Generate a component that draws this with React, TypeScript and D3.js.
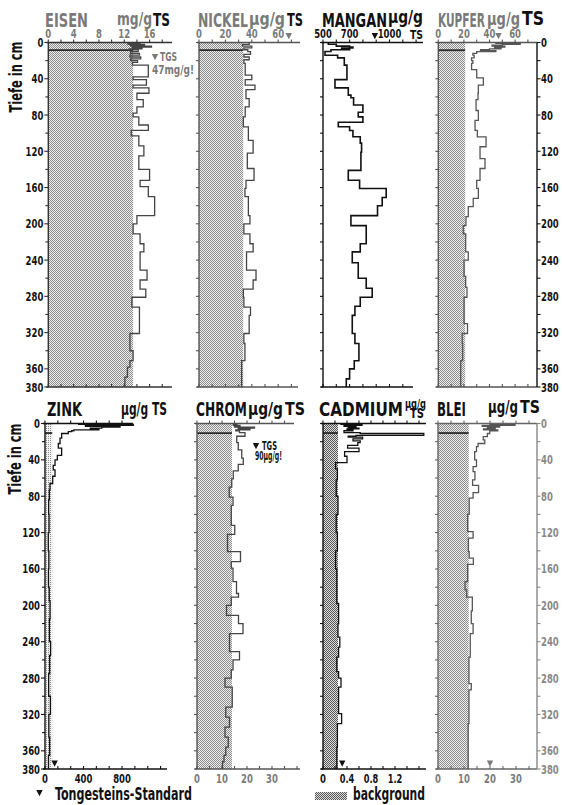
import React from "react";
import * as d3 from "d3";

type Seg = [number, number, number]; // [depth top cm, depth bottom cm, value]

// ---------------- DATA ----------------
const depthLabels = [0, 40, 80, 120, 160, 200, 240, 280, 320, 360, 380];
const depthTicks = d3.range(0, 381, 20);

const eisen: Seg[] = [
  [0, 1, 14.5], [1, 2, 12.6], [2, 3, 15.2], [3, 4, 13], [4, 5, 16.3], [5, 6, 13.3], [6, 7, 14.8], [7, 8, 12.8],
  [8, 10, 14.2], [10, 12, 13], [12, 14, 14.4], [14, 16, 12.9], [16, 18, 14.6], [18, 20, 13], [20, 22, 14.1],
  [22, 25, 13.3], [25, 38, 15.8], [38, 41, 13.4], [41, 47, 15.5], [47, 50, 13.4], [50, 56, 15.9], [56, 63, 14],
  [63, 71, 15], [71, 78, 14], [78, 82, 13.4], [82, 91, 14.3], [91, 97, 15.8], [97, 103, 13.1], [103, 114, 14.3],
  [114, 125, 15.1], [125, 140, 14.3], [140, 152, 16.0], [152, 159, 14.5], [159, 170, 15.8], [170, 191, 16.8],
  [191, 200, 14], [200, 211, 13.4], [211, 222, 14.5], [222, 231, 15.1], [231, 251, 14.5], [251, 262, 15.6],
  [262, 272, 14.5], [272, 281, 15.4], [281, 292, 13.2], [292, 321, 14.4], [321, 340, 12.9], [340, 351, 13.4],
  [351, 358, 12.9], [358, 369, 12.5], [369, 380, 12.1],
];

const nickel: Seg[] = [
  [0, 2, 38], [2, 4, 33], [4, 6, 40], [6, 8, 34], [8, 10, 37], [10, 13, 39], [13, 16, 34], [16, 19, 38],
  [19, 23, 34], [23, 36, 35], [36, 41, 40], [41, 47, 35], [47, 52, 42.4], [52, 62, 35.6], [62, 71, 38],
  [71, 82, 35], [82, 93, 33.6], [93, 108, 37.4], [108, 122, 41], [122, 139, 36.6], [139, 152, 41.7],
  [152, 161, 35.6], [161, 170, 34.8], [170, 191, 37.4], [191, 200, 38.6], [200, 211, 34], [211, 222, 38.6],
  [222, 231, 41], [231, 251, 36], [251, 262, 43.2], [262, 272, 41], [272, 281, 33.6], [281, 292, 34],
  [292, 301, 39], [301, 321, 38], [321, 332, 34], [332, 351, 34.8], [351, 380, 32.3],
];

const mangan: Seg[] = [
  [0, 2, 540], [2, 4, 600], [4, 5, 700], [5, 6, 725], [6, 7, 640], [7, 8, 700], [8, 10, 560], [10, 14, 515],
  [14, 17, 610], [17, 25, 660], [25, 41, 680], [41, 50, 590], [50, 58, 690], [58, 61, 710], [61, 69, 730],
  [69, 77, 800], [77, 82, 765], [82, 88, 800], [88, 93, 615], [93, 97, 700], [97, 104, 725], [104, 111, 780],
  [111, 121, 790], [121, 141, 785], [141, 152, 690], [152, 161, 775], [161, 171, 975], [171, 180, 945],
  [180, 191, 910], [191, 202, 710], [202, 222, 825], [222, 231, 780], [231, 243, 720], [243, 260, 765],
  [260, 271, 825], [271, 281, 870], [281, 291, 780], [291, 301, 740], [301, 321, 720], [321, 332, 740],
  [332, 351, 770], [351, 360, 735], [360, 371, 700], [371, 380, 675],
];

const kupfer: Seg[] = [
  [0, 1, 45], [1, 2, 64], [2, 3, 50], [3, 4, 42], [4, 5, 52], [5, 6, 44], [6, 7, 49], [7, 8, 40], [8, 9, 33],
  [9, 10, 45], [10, 12, 30], [12, 14, 27], [14, 17, 28], [17, 20, 26], [20, 23, 27], [23, 30, 26], [30, 39, 30],
  [39, 47, 35.2], [47, 56, 31.3], [56, 63, 31], [63, 75, 29.5], [75, 86, 31.3], [86, 97, 28.7], [97, 104, 30.5],
  [104, 115, 37.3], [115, 128, 32.6], [128, 139, 36.5], [139, 152, 32.6], [152, 161, 30], [161, 172, 31.3],
  [172, 181, 27.3], [181, 192, 23.4], [192, 202, 21.6], [202, 211, 19.5], [211, 231, 21.4], [231, 240, 23.4],
  [240, 258, 20.1], [258, 270, 21.4], [270, 281, 22.4], [281, 310, 20.1], [310, 321, 22.8], [321, 332, 18.7],
  [332, 351, 19], [351, 380, 17.5],
];

const zink: Seg[] = [
  [0, 1, 350], [1, 2, 917], [2, 3, 420], [3, 4, 779], [4, 5, 590], [5, 6, 470], [6, 7, 560], [7, 8, 300],
  [8, 9, 277], [9, 11, 242], [11, 16, 173], [16, 22, 156], [22, 27, 138], [27, 35, 173], [35, 40, 128],
  [40, 46, 104], [46, 51, 86], [51, 58, 104], [58, 66, 80], [66, 73, 52], [73, 84, 45], [84, 100, 38],
  [100, 120, 42], [120, 140, 34], [140, 160, 40], [160, 180, 36], [180, 195, 44], [195, 215, 52], [215, 240, 46],
  [240, 255, 58], [255, 275, 48], [275, 300, 38], [300, 320, 56], [320, 345, 40], [345, 365, 48], [365, 380, 36],
];

const chrom: Seg[] = [
  [0, 1, 16], [1, 2, 14.5], [2, 3, 17.2], [3, 4, 15], [4, 5, 23], [5, 6, 16.5], [6, 7, 21.2], [7, 8, 15.5],
  [8, 10, 17], [10, 14, 19.2], [14, 21, 15.9], [21, 29, 16.5], [29, 38, 17.9], [38, 45, 18.5], [45, 52, 16.5],
  [52, 61, 14.5], [61, 70, 13.9], [70, 81, 12.9], [81, 90, 14.4], [90, 112, 13.7], [112, 122, 15.1],
  [122, 141, 12.2], [141, 152, 17.4], [152, 159, 13.7], [159, 174, 14.4], [174, 187, 15.8], [187, 191, 16.6],
  [191, 200, 13.7], [200, 211, 11.8], [211, 220, 16.6], [220, 231, 18.4], [231, 251, 13], [251, 260, 17],
  [260, 271, 14.4], [271, 280, 13.7], [280, 290, 11.2], [290, 312, 14.1], [312, 323, 11.5], [323, 334, 13],
  [334, 345, 11.2], [345, 356, 12.5], [356, 365, 11.5], [365, 372, 10.8], [372, 380, 10.2],
];

const cadmium: Seg[] = [
  [0, 1, 0.3], [1, 2, 0.65], [2, 3, 0.35], [3, 4, 0.55], [4, 5, 0.42], [5, 6, 0.6], [6, 7, 0.4], [7, 8, 0.5],
  [8, 10, 0.35], [10, 11, 0.62], [11, 13, 1.68], [13, 14, 0.55], [14, 15, 0.42], [15, 17, 0.66], [17, 19, 0.5],
  [19, 21, 0.62], [21, 24, 0.58], [24, 27, 0.41], [27, 31, 0.6], [31, 36, 0.36], [36, 43, 0.4], [43, 50, 0.21],
  [50, 62, 0.24], [62, 80, 0.22], [80, 100, 0.25], [100, 120, 0.22], [120, 140, 0.24], [140, 160, 0.21],
  [160, 183, 0.23], [183, 198, 0.23], [198, 220, 0.26], [220, 235, 0.25], [235, 246, 0.28], [246, 257, 0.26],
  [257, 273, 0.23], [273, 280, 0.26], [280, 290, 0.3], [290, 319, 0.26], [319, 330, 0.31], [330, 356, 0.24],
  [356, 380, 0.23],
];

const blei: Seg[] = [
  [0, 1, 20], [1, 2, 29.6], [2, 3, 17], [3, 4, 23.7], [4, 5, 19], [5, 6, 22], [6, 7, 17.5], [7, 8, 23],
  [8, 11, 19.9], [11, 14.5, 19], [14.5, 18, 17.4], [18, 22, 18], [22, 25.5, 15.4], [25.5, 31, 14.8],
  [31, 40, 14.1], [40, 47.5, 14.8], [47.5, 53, 13.5], [53, 62, 14.2], [62, 68, 13.3], [68, 76, 15.6],
  [76, 82, 13.5], [82, 100, 12], [100, 119, 11.4], [119, 126, 13.5], [126, 141, 11.7], [141, 148, 12],
  [148, 155, 13.6], [155, 174, 11.4], [174, 183, 10.4], [183, 191, 11], [191, 206, 13.2], [206, 220, 12.8],
  [220, 231, 13.5], [231, 257, 12.4], [257, 286, 11.9], [286, 293, 12.8], [293, 330, 11.9], [330, 380, 11.6],
];

// background levels
const bgEisen = 13.4, bgNickel = 33.5, bgKupfer = 21, bgZink = 75, bgChrom = 14, bgCadmium = 0.25, bgBlei = 11.8;
// Tongesteins-Standard markers
const tgsNickel = 68, tgsMangan = 890, tgsKupfer = 47, tgsZink = 100, tgsCadmium = 0.32, tgsBlei = 20;
// tick labels
const eisenLabels = [0, 4, 8, 12, 16];
const nickelLabels = [0, 20, 40, 60];
const manganLabels = [500, 700, 1000];
const kupferLabels = [0, 20, 40, 60];
const zinkLabels = [0, 400, 800];
const chromLabels = [0, 10, 20, 30];
const cadmiumLabels = [0, 0.4, 0.8, 1.2];
const bleiLabels = [0, 10, 20, 30];

// ---------------- LAYOUT ----------------
const FONT = "'Liberation Sans Narrow','Arial Narrow','DejaVu Sans Condensed','Liberation Sans',sans-serif";
const GRAY = "#7a7a7a";
const BLACK = "#111";

const yTop = d3.scaleLinear().domain([0, 380]).range([42.5, 387]);
const yBot = d3.scaleLinear().domain([0, 380]).range([423.5, 769]);

// estimated width of a numeric label in the condensed face
const numW = (s: string) => s.split("").reduce((a, ch) => a + (ch === "." ? 2.8 : 5.9), 0);

interface PanelDef {
  data: Seg[]; row: 0 | 1; v0: number; px0: number; ppu: number; axisEnd: number; topEnd: number;
  step: number; labels: number[]; labelColor: string; lineColor: string; axisColor: string;
  bg?: number; tgs?: number; tgsColor?: string; pattern?: string; fmt?: (v: number) => string;
  leftLabels?: boolean; rightAxis?: boolean; rightColor?: string; lineW?: number;
}

const panels: PanelDef[] = [
  { data: eisen, row: 0, v0: 0, px0: 48.3, ppu: 6.33, axisEnd: 172, topEnd: 172, step: 2, labels: eisenLabels,
    labelColor: GRAY, lineColor: "#444", axisColor: "#333", bg: bgEisen, pattern: "stipG", leftLabels: true },
  { data: nickel, row: 0, v0: 0, px0: 199, ppu: 1.32, axisEnd: 298, topEnd: 300, step: 10, labels: nickelLabels,
    labelColor: GRAY, lineColor: "#444", axisColor: "#555", bg: bgNickel, tgs: tgsNickel, tgsColor: GRAY, pattern: "stipG" },
  { data: mangan, row: 0, v0: 500, px0: 323, ppu: 0.133, axisEnd: 413, topEnd: 423, step: 100, labels: manganLabels,
    labelColor: BLACK, lineColor: BLACK, axisColor: BLACK, tgs: tgsMangan, tgsColor: BLACK, lineW: 1.6 },
  { data: kupfer, row: 0, v0: 0, px0: 438.3, ppu: 1.28, axisEnd: 537, topEnd: 537, step: 10, labels: kupferLabels,
    labelColor: GRAY, lineColor: "#555", axisColor: "#555", bg: bgKupfer, tgs: tgsKupfer, tgsColor: GRAY, pattern: "stipG",
    rightAxis: true, rightColor: BLACK },
  { data: zink, row: 1, v0: 0, px0: 45, ppu: 0.0963, axisEnd: 167, topEnd: 133, step: 400 / 3, labels: zinkLabels,
    labelColor: BLACK, lineColor: BLACK, axisColor: BLACK, bg: bgZink, tgs: tgsZink, tgsColor: BLACK, pattern: "stipL", leftLabels: true },
  { data: chrom, row: 1, v0: 0, px0: 197, ppu: 2.5, axisEnd: 300, topEnd: 294, step: 5, labels: chromLabels,
    labelColor: GRAY, lineColor: "#444", axisColor: "#555", bg: bgChrom, pattern: "stipG" },
  { data: cadmium, row: 1, v0: 0, px0: 323, ppu: 60, axisEnd: 426, topEnd: 426, step: 0.2, labels: cadmiumLabels,
    labelColor: BLACK, lineColor: BLACK, axisColor: BLACK, bg: bgCadmium, tgs: tgsCadmium, tgsColor: BLACK, pattern: "stipD",
    fmt: (v) => (v === 0 ? "0" : String(v)) },
  { data: blei, row: 1, v0: 0, px0: 438, ppu: 2.6, axisEnd: 537, topEnd: 537, step: 5, labels: bleiLabels,
    labelColor: GRAY, lineColor: "#555", axisColor: "#666", bg: bgBlei, tgs: tgsBlei, tgsColor: GRAY, pattern: "stipG",
    rightAxis: true, rightColor: "#888" },
];

const tri = "M-3.2,-3 L3.2,-3 L0,3.2 Z";

function N(props: { x: number; y: number; anchor: string; c: string; s: string; fs?: number }) {
  const { x, y, anchor, c, s, fs = 13 } = props;
  return (
    <text x={x} y={y} textAnchor={anchor} fontSize={fs} fontWeight="bold" fontFamily={FONT} fill={c}
      textLength={numW(s)} lengthAdjust="spacingAndGlyphs">{s}</text>
  );
}

function Panel({ p }: { p: PanelDef }) {
  const y = p.row === 0 ? yTop : yBot;
  const [yA, yB] = y.range();
  const x = d3.scaleLinear().domain([p.v0, p.v0 + 1]).range([p.px0, p.px0 + p.ppu]);
  const endB = x.invert(p.axisEnd);
  const endT = x.invert(p.topEnd);
  const ticksB = d3.range(0, Math.floor((endB - p.v0) / p.step + 1e-6) + 1).map((i) => p.v0 + i * p.step);
  const ticksT = d3.range(0, Math.floor((endT - p.v0) / p.step + 1e-6) + 1).map((i) => p.v0 + i * p.step);
  const pts = p.data.flatMap(([t, b, v]) => [[v, t], [v, b]] as [number, number][]);
  const path = d3.line<[number, number]>().x((d) => x(d[0])).y((d) => y(d[1]))(pts) || "";
  const fmt = p.fmt || ((v: number) => String(v));
  const labelY = p.row === 0 ? yA - 4.5 : yB + 14;
  const boundary = p.row === 0 ? 8.5 : 10.5;
  return (
    <g>
      {p.bg !== undefined && (
        <rect x={x(0)} y={yA} width={x(p.bg) - x(0)} height={yB - yA} fill={`url(#${p.pattern})`} />
      )}
      {p.bg !== undefined && (
        <line x1={x(0)} x2={x(p.bg)} y1={y(boundary)} y2={y(boundary)} stroke="#2a2a2a" strokeWidth={1.8} />
      )}
      {/* left axis */}
      <line x1={p.px0} x2={p.px0} y1={yA} y2={yB} stroke={p.axisColor} strokeWidth={1.4} />
      {depthTicks.map((d) => (
        <line key={"lt" + d} x1={p.px0 - (p.leftLabels && depthLabels.includes(d) ? 4 : 3)} x2={p.px0} y1={y(d)} y2={y(d)}
          stroke={p.axisColor} strokeWidth={1.1} />
      ))}
      {p.leftLabels && depthLabels.map((d) => (
        <N key={"ll" + d} x={p.px0 - 5} y={y(d) + 4.5} anchor="end" c={BLACK} s={String(d)} />
      ))}
      {/* top axis */}
      <line x1={p.px0 - 2} x2={p.topEnd} y1={yA} y2={yA} stroke={p.axisColor} strokeWidth={1.4} />
      {ticksT.map((v, i) => (
        <line key={"tt" + i} x1={x(v)} x2={x(v)} y1={yA} y2={yA - 3} stroke={p.axisColor} strokeWidth={1.1} />
      ))}
      {/* bottom axis */}
      <line x1={p.px0 - 2} x2={p.axisEnd} y1={yB} y2={yB} stroke={p.axisColor} strokeWidth={1.4} />
      {ticksB.map((v, i) => (
        <line key={"bt" + i} x1={x(v)} x2={x(v)} y1={yB} y2={yB - 3} stroke={p.axisColor} strokeWidth={1.1} />
      ))}
      {p.labels.map((v) => (
        <N key={"xl" + v} x={x(v)} y={labelY} anchor="middle" c={p.labelColor} s={fmt(v)} />
      ))}
      {p.rightAxis && (
        <g>
          <line x1={p.axisEnd} x2={p.axisEnd} y1={yA} y2={yB} stroke={p.rightColor} strokeWidth={1.4} />
          {depthTicks.map((d) => (
            <line key={"rt" + d} x1={p.axisEnd} x2={p.axisEnd + 3.5} y1={y(d)} y2={y(d)} stroke={p.rightColor} strokeWidth={1.1} />
          ))}
          {depthLabels.map((d) => (
            <N key={"rl" + d} x={p.axisEnd + 4} y={y(d) + 4.5} anchor="start" c={p.rightColor as string} s={String(d)} fs={12} />
          ))}
        </g>
      )}
      {/* data line */}
      <path d={path} fill="none" stroke={p.lineColor} strokeWidth={p.lineW || 1.3} strokeLinejoin="miter" />
      {p.tgs !== undefined && (
        <path d={tri} transform={`translate(${x(p.tgs)},${p.row === 0 ? yA - 6.5 : yB - 5.5})`} fill={p.tgsColor} />
      )}
    </g>
  );
}

function T(props: { x: number; y: number; s?: number; c?: string; tl?: number; children: React.ReactNode; anchor?: string }) {
  const { x, y, s = 19, c = BLACK, tl, children, anchor = "start" } = props;
  return (
    <text x={x} y={y} fontSize={s} fontWeight="bold" fontFamily={FONT} fill={c} textAnchor={anchor}
      {...(tl ? { textLength: tl, lengthAdjust: "spacingAndGlyphs" } : {})}>{children}</text>
  );
}

export default function App() {
  return (
    <svg width={562} height={805} viewBox="0 0 562 805" style={{ position: "absolute", left: 0, top: 0, background: "#fff" }}>
      <defs>
        <pattern id="stipG" width={2} height={2} patternUnits="userSpaceOnUse">
          <rect width={2} height={2} fill="#efefef" />
          <rect x={0} y={0} width={1} height={1} fill="#8c8c8c" />
          <rect x={1} y={1} width={1} height={1} fill="#8c8c8c" />
        </pattern>
        <pattern id="stipL" width={2} height={2} patternUnits="userSpaceOnUse">
          <rect width={2} height={2} fill="#f2f2f2" />
          <rect x={0} y={0} width={1} height={1} fill="#8a8a8a" />
        </pattern>
        <pattern id="stipD" width={2} height={2} patternUnits="userSpaceOnUse">
          <rect width={2} height={2} fill="#e0e0e0" />
          <rect x={0} y={0} width={1} height={1} fill="#555" />
          <rect x={1} y={1} width={1} height={1} fill="#555" />
        </pattern>
      </defs>
      <rect width={562} height={805} fill="#fff" />

      {panels.map((p, i) => <Panel key={i} p={p} />)}

      {/* Titles, top row */}
      <T x={45} y={27} c={GRAY} tl={43}>EISEN</T>
      <T x={117} y={25} s={17} c={GRAY} tl={35}>mg/g</T>
      <T x={153} y={26} s={17} tl={17}>TS</T>
      <T x={198} y={27} c={GRAY} tl={50}>NICKEL</T>
      <T x={249} y={25} s={17} c={GRAY} tl={36}>µg/g</T>
      <T x={287} y={26} s={17} tl={16}>TS</T>
      <T x={322} y={27} tl={65}>MANGAN</T>
      <T x={388} y={23} s={17} tl={35}>µg/g</T>
      <T x={410} y={39} s={13} tl={13}>TS</T>
      <T x={438} y={27} c={GRAY} tl={47}>KUPFER</T>
      <T x={487} y={25} s={17} c={GRAY} tl={33}>µg/g</T>
      <T x={522} y={25} s={19} tl={22}>TS</T>

      {/* Titles, bottom row */}
      <T x={47} y={416} tl={35}>ZINK</T>
      <T x={121} y={415} s={17} tl={46}>µg/g TS</T>
      <T x={196} y={416} tl={51}>CHROM</T>
      <T x={248} y={415} s={17} tl={35}>µg/g</T>
      <T x={285} y={415} s={17} tl={20}>TS</T>
      <T x={319} y={416} tl={84}>CADMIUM</T>
      <T x={405} y={408} s={13} tl={21}>µg/g</T>
      <T x={410} y={418} s={14} tl={14}>TS</T>
      <T x={437} y={416} tl={29}>BLEI</T>
      <T x={488} y={413} s={17} tl={30}>µg/g</T>
      <T x={520} y={413} s={17} tl={20}>TS</T>

      {/* y-axis titles */}
      <g transform="translate(22,77) rotate(-90)">
        <T x={0} y={0} s={17} anchor="middle" tl={71}>Tiefe in cm</T>
      </g>
      <g transform="translate(21,459) rotate(-90)">
        <T x={0} y={0} s={17} anchor="middle" tl={71}>Tiefe in cm</T>
      </g>

      {/* TGS notes */}
      <path d={tri} transform="translate(155,57)" fill={GRAY} />
      <T x={160} y={61} s={13} c={GRAY} tl={17}>TGS</T>
      <T x={152} y={74} s={13} c={GRAY} tl={42}>47mg/g!</T>
      <path d={tri} transform="translate(256,446)" fill={BLACK} />
      <T x={262} y={450} s={13} tl={15}>TGS</T>
      <T x={255} y={460} s={13} tl={27}>90µg/g!</T>

      {/* legend */}
      <path d={tri} transform="translate(39.5,793)" fill={BLACK} />
      <T x={55} y={800} s={18} tl={137}>Tongesteins-Standard</T>
      <rect x={315} y={792} width={32} height={8} fill="url(#stipD)" />
      <T x={353} y={800} s={18} tl={72}>background</T>
    </svg>
  );
}
